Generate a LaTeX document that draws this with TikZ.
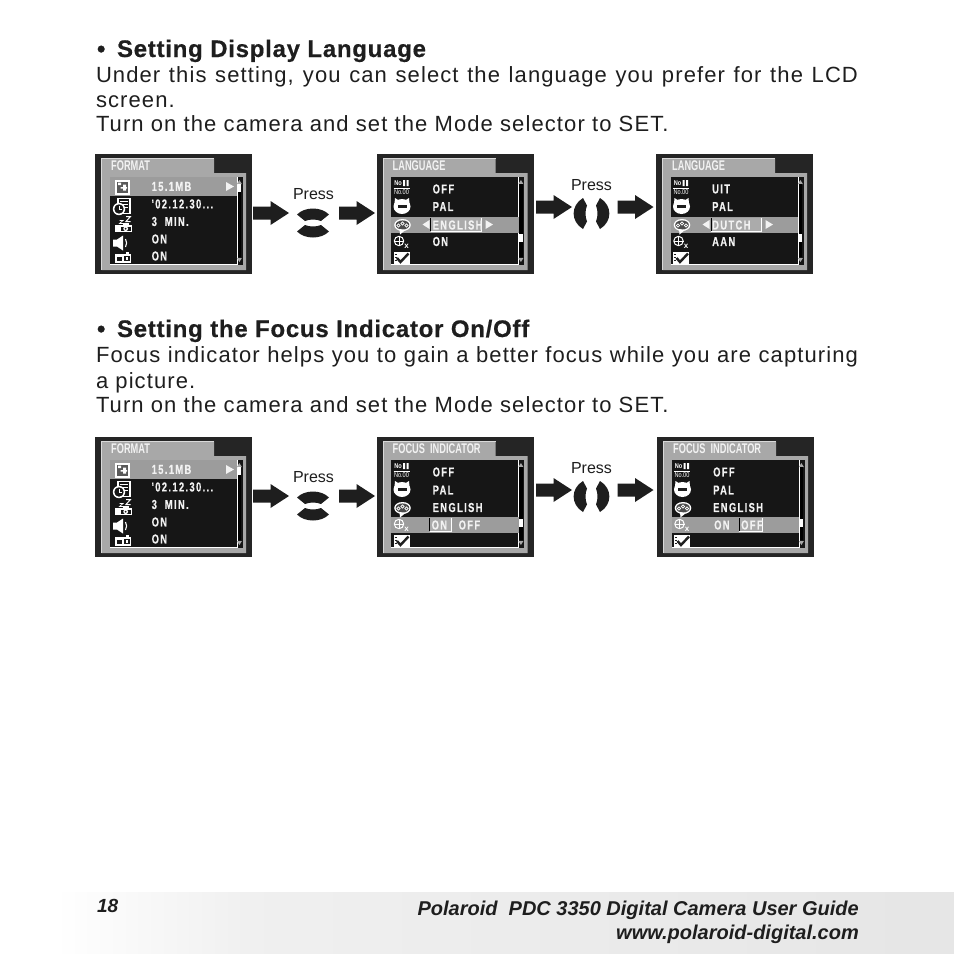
\documentclass[tikz,border=0pt]{standalone}
\usepackage{fontspec}
\setmainfont{Liberation Sans}
\newfontfamily\lcdfont[FakeStretch=0.72,LetterSpace=10.5,BoldFeatures={FakeBold=0.35}]{Liberation Sans}
\newfontfamily\titlefont[FakeStretch=0.66]{Liberation Sans}
\newfontfamily\tinyfont[FakeStretch=0.8]{Liberation Sans}
\newfontfamily\bodyfont[LetterSpace=5]{Liberation Sans}
\newfontfamily\headfont[LetterSpace=3.1,BoldFeatures={FakeBold=0.5}]{Liberation Sans}
\newfontfamily\footfont[LetterSpace=0]{Liberation Sans}
\definecolor{outerc}{HTML}{252525}
\definecolor{framec}{HTML}{A8A8A8}
\definecolor{blackc}{HTML}{161616}
\definecolor{bandc}{HTML}{9C9C9C}
\definecolor{selc}{HTML}{ABABAB}
\definecolor{inkc}{HTML}{1E1E1E}
\definecolor{lcdw}{HTML}{F2F2F2}
\tikzset{
  txt/.style={anchor=base west,inner sep=0pt,outer sep=0pt,text=inkc},
  lcdtxt/.style={anchor=west,inner sep=0pt,text=lcdw,font=\lcdfont\bfseries\fontsize{13}{14}\selectfont},
  tabtxt/.style={anchor=west,inner sep=0pt,text=lcdw,font=\titlefont\bfseries\fontsize{14}{15}\selectfont},
  presstxt/.style={anchor=center,inner sep=0pt,text=inkc,font=\fontsize{16}{18}\selectfont},
  headtxt/.style={txt,font=\headfont\bfseries\fontsize{24}{28}\selectfont},
  bodytxt/.style={txt,font=\bodyfont\fontsize{22}{26}\selectfont},
  foottxt/.style={anchor=base east,inner sep=0pt,text=inkc,font=\footfont\bfseries\itshape\fontsize{20}{22}\selectfont}
}
% #1 shift x, #2 shift y, #3 title
\newcommand{\screenbase}[3]{%
  \fill[outerc] (#1,#2) rectangle ++(157,120);
  \begin{scope}[shift={(#1,#2)}]
    \fill[framec] (6.5,4.5) -- (119,4.5) -- (119,19) -- (151,19) -- (151,116) -- (6.5,116) -- cycle;
    \draw[white!85!black,line width=.6pt] (6.5,116) -- (6.5,4.5) -- (119,4.5);
    \fill[blackc] (14.5,23) rectangle (147.5,110.5);
    \draw[white,line width=.6pt] (142,23) -- (142,110.5) -- (14.5,110.5);
    \fill[framec] (144.4,26) -- (146.9,30) -- (141.9,30) -- cycle;
    \fill[framec] (144.4,108) -- (146.9,104) -- (141.9,104) -- cycle;
    \node[tabtxt] (title) at (16,12) {#3};
  \end{scope}}
\newcommand{\upanddown}[2]{%
  \begin{scope}[shift={(#1,#2)}]
    \fill[inkc] (-16,-8.5) .. controls (-8,-16.5) and (8,-16.5) .. (16,-8.5) -- (8,-2) .. controls (3,-4) and (-3,-4) .. (-8,-2) -- cycle;
    \fill[inkc] (-16,8.5) .. controls (-8,16.5) and (8,16.5) .. (16,8.5) -- (8,2) .. controls (3,4) and (-3,4) .. (-8,2) -- cycle;
  \end{scope}}
\newcommand{\leftandright}[2]{%
  \begin{scope}[shift={(#1,#2)}]
    \fill[inkc] (-8.5,-15.5) .. controls (-21,-8) and (-21,8) .. (-8.5,15.5) -- (-4.5,8) .. controls (-6.5,3) and (-6.5,-3) .. (-4.5,-8) -- cycle;
    \fill[inkc] (8.5,-15.5) .. controls (21,-8) and (21,8) .. (8.5,15.5) -- (4.5,8) .. controls (6.5,3) and (6.5,-3) .. (4.5,-8) -- cycle;
  \end{scope}}
\newcommand{\blockarrow}[2]{%
  \fill[inkc] (#1,#2-6.5) -- ++(17.5,0) -- ++(0,-5.5) -- (#1+36,#2) -- (#1+17.5,#2+12) -- ++(0,-5.5) -- (#1,#2+6.5) -- cycle;}
% Icons of the FORMAT screen, local coordinates
\newcommand{\formaticons}{%
  \fill[white] (19.5,25.5) rectangle (35,40.5);
  \fill[black!65] (21.5,27.5) rectangle (33,38.5);
  \fill[white] (23,28.5) rectangle (26,31) (28,30.5) rectangle (31,36.5) (25.5,33) rectangle (32,34.5);
  % clock and document
  \draw[white,line width=1.1pt] (23,44.5) rectangle (35,59.5);
  \draw[white,line width=.8pt] (25,47.5) -- (33,47.5) (28,50.5) -- (33,50.5) (30,53.5) -- (33,53.5);
  \fill[white] (24,55) circle (6.2);
  \fill[blackc] (24,55) circle (4.7);
  \draw[white,line width=.9pt] (24,51.5) -- (24,55) -- (27,55);
  % sleep camera
  \fill[white] (20,71) rectangle (37,78);
  \fill[blackc] (26,72.5) rectangle (35.5,77);
  \fill[white] (30.7,74.7) circle (2.4);
  \fill[blackc] (30.7,74.7) circle (1);
  \fill[white] (28,69) rectangle (33.5,71);
  \draw[white,line width=1pt] (31,62.5) -- (35.5,62.5) -- (31,67.5) -- (35.5,67.5);
  \draw[white,line width=.7pt] (24.5,66.5) -- (28,66.5) -- (24.5,69.5) -- (28,69.5);
  % speaker
  \fill[white] (18,85.5) -- (22,85.5) -- (28,81.5) -- (28,96.5) -- (22,92.5) -- (18,92.5) -- cycle;
  \draw[white,line width=1.1pt] (30.5,85) .. controls (32,87.5) and (32,90.5) .. (30.5,93);
  % battery camera
  \fill[white] (20,100) rectangle (36,108.5);
  \fill[blackc] (21.5,103) rectangle (27,106.5);
  \fill[white] (30.5,98) rectangle (34,100);
  \fill[blackc] (29,102) rectangle (34.5,107);
  \fill[white] (31,103) rectangle (32.5,106);
}
% Icons of the LANGUAGE and FOCUS screens
\newcommand{\seticons}{%
  \node[anchor=center,inner sep=0pt,text=white,font=\tinyfont\bfseries\fontsize{7}{8}\selectfont] (noa) at (21.5,29.5) {No};
  \fill[white] (26.5,26) rectangle (28.5,32) (30.2,26) rectangle (32.2,32);
  \draw[white,line width=.6pt] (17,34) -- (33,34);
  \node[anchor=center,inner sep=0pt,text=white,font=\tinyfont\fontsize{7}{8}\selectfont] (nob) at (25,38.5) {No.00};
  % cat shaped battery
  \fill[white] (25.5,52.5) ellipse (8.5 and 7.5);
  \fill[white] (18.5,44) -- (22.5,46.5) -- (18,49.5) -- cycle (32.5,44) -- (28.5,46.5) -- (33,49.5) -- cycle;
  \fill[inkc] (21,51.3) rectangle (30,53.8);
  % speech bubble
  \fill[white] (26,71) ellipse (8.3 and 6);
  \fill[black!70] (26,71) ellipse (6.8 and 4.6);
  \fill[white] (23,75) -- (29,76) -- (23.5,80.5) -- cycle;
  \foreach \cx/\cy in {22/71.5,26/69.5,30/71.5}{\draw[white,line width=.7pt] (\cx,\cy) circle (1.6);}
  % focus target
  \draw[white,line width=1pt] (22.5,87) circle (4.7);
  \draw[white,line width=.9pt] (17.5,87) -- (27.5,87) (22.5,82) -- (22.5,92);
  \node[anchor=center,inner sep=0pt,text=white,font=\bfseries\fontsize{8}{9}\selectfont] (xsub) at (30,92) {x};
  % check list
  \fill[white] (17,98) rectangle (33,110);
  \draw[inkc,line width=2.4pt] (20.5,104) -- (24,108) -- (32,99.5);
  \draw[inkc,line width=.6pt] (18,100) -- (20,100) (18,103) -- (20,103) (18,106) -- (20,106);
}
\begin{document}
\begin{tikzpicture}[x=1pt,y=-1pt]
\useasboundingbox (0,0) rectangle (954,954);
\fill[white] (0,0) rectangle (954,954);

% headings and body
\node[headtxt] (h1) at (97,57) {\makebox[20pt][l]{•}Setting Display Language};
\node[bodytxt] (b1) at (96,82.7) {\makebox[762pt][s]{Under this setting, you can select the language you prefer for the LCD}};
\node[bodytxt] (b2) at (96,107.7) {screen.};
\node[bodytxt] (b3) at (96,131.7) {Turn on the camera and set the Mode selector to SET.};

\node[headtxt] (h2) at (97,337) {\makebox[20pt][l]{•}Setting the Focus Indicator On/Off};
\node[bodytxt] (b4) at (96,362.7) {\makebox[762pt][s]{Focus indicator helps you to gain a better focus while you are capturing}};
\node[bodytxt] (b5) at (96,388.7) {a picture.};
\node[bodytxt] (b6) at (96,412.7) {Turn on the camera and set the Mode selector to SET.};

% Row 1, screen A
\begin{scope}[name prefix=a-]
\screenbase{95}{154}{FORMAT}
\begin{scope}[shift={(95,154)}]
  \fill[bandc] (14.5,23) rectangle (142,42);
  \fill[lcdw] (131,28) -- (139,32.5) -- (131,37) -- cycle;
  \formaticons
  \fill[black] (142.5,30) rectangle (146,103);
  \fill[white] (142.5,30) rectangle (146,37.5);
  \node[lcdtxt] (r1) at (56.5,32.5) {15.1MB};
  \node[lcdtxt] (r2) at (56.5,50) {'02.12.30...};
  \node[lcdtxt] (r3) at (56.5,67.5) {3\ \ MIN.};
  \node[lcdtxt] (r4) at (56.5,85) {ON};
  \node[lcdtxt] (r5) at (56.5,102) {ON};
\end{scope}
\end{scope}

% Row 1, screen B
\begin{scope}[name prefix=b-]
\screenbase{376.5}{154}{LANGUAGE}
\begin{scope}[shift={(376.5,154)}]
  \fill[bandc] (14.5,62.5) rectangle (142,78.5);
  \fill[selc] (54,64) rectangle (105,77);
  \draw[black,line width=.8pt] (54,64) -- (54,77);
  \draw[white,line width=.7pt] (54,77) -- (105,77) -- (105,64);
  \fill[lcdw] (53,66) -- (53,75) -- (46,70.5) -- cycle;
  \fill[lcdw] (109,66) -- (109,75) -- (116.5,70.5) -- cycle;
  \seticons
  \fill[black] (142.5,30) rectangle (146,103);
  \fill[white] (142.5,80) rectangle (146,88);
  \node[lcdtxt] (r1) at (56,35) {OFF};
  \node[lcdtxt] (r2) at (56,52.5) {PAL};
  \node[lcdtxt] (r3) at (56,71) {ENGLISH};
  \node[lcdtxt] (r4) at (56,87.5) {ON};
\end{scope}
\end{scope}

% Row 1, screen C
\begin{scope}[name prefix=c-]
\screenbase{656}{154}{LANGUAGE}
\begin{scope}[shift={(656,154)}]
  \fill[bandc] (14.5,62.5) rectangle (142,78.5);
  \fill[selc] (55,64) rectangle (105,77);
  \draw[black,line width=.8pt] (55,64) -- (55,77);
  \draw[white,line width=.7pt] (55,77) -- (105,77) -- (105,64);
  \fill[lcdw] (53.5,66) -- (53.5,75) -- (46.5,70.5) -- cycle;
  \fill[lcdw] (109.5,66) -- (109.5,75) -- (117,70.5) -- cycle;
  \seticons
  \fill[black] (142.5,30) rectangle (146,103);
  \fill[white] (142.5,80) rectangle (146,88);
  \node[lcdtxt] (r1) at (56,35) {UIT};
  \node[lcdtxt] (r2) at (56,52.5) {PAL};
  \node[lcdtxt] (r3) at (56,71) {DUTCH};
  \node[lcdtxt] (r4) at (56,87.5) {AAN};
\end{scope}
\end{scope}

% Row 2, screen D
\begin{scope}[name prefix=d-]
\screenbase{95}{437}{FORMAT}
\begin{scope}[shift={(95,437)}]
  \fill[bandc] (14.5,23) rectangle (142,42);
  \fill[lcdw] (131,28) -- (139,32.5) -- (131,37) -- cycle;
  \formaticons
  \fill[black] (142.5,30) rectangle (146,103);
  \fill[white] (142.5,30) rectangle (146,37.5);
  \node[lcdtxt] (r1) at (56.5,32.5) {15.1MB};
  \node[lcdtxt] (r2) at (56.5,50) {'02.12.30...};
  \node[lcdtxt] (r3) at (56.5,67.5) {3\ \ MIN.};
  \node[lcdtxt] (r4) at (56.5,85) {ON};
  \node[lcdtxt] (r5) at (56.5,102) {ON};
\end{scope}
\end{scope}

% Row 2, screen E
\begin{scope}[name prefix=e-]
\screenbase{376.5}{437}{FOCUS\ \ INDICATOR}
\begin{scope}[shift={(376.5,437)}]
  \fill[bandc] (14.5,80) rectangle (142,96);
  \fill[selc] (53,81) rectangle (75,94);
  \draw[black,line width=.8pt] (53,81) -- (53,94);
  \draw[white,line width=.7pt] (53,94) -- (75,94) -- (75,81);
  \seticons
  \fill[black] (142.5,30) rectangle (146,103);
  \fill[white] (142.5,82) rectangle (146,90);
  \node[lcdtxt] (r1) at (56,35) {OFF};
  \node[lcdtxt] (r2) at (56,53) {PAL};
  \node[lcdtxt] (r3) at (56,70.5) {ENGLISH};
  \node[lcdtxt] (r4) at (55,88) {ON};
  \node[lcdtxt] (r5) at (82,88) {OFF};
\end{scope}
\end{scope}

% Row 2, screen F
\begin{scope}[name prefix=f-]
\screenbase{657}{437}{FOCUS\ \ INDICATOR}
\begin{scope}[shift={(657,437)}]
  \fill[bandc] (14.5,80) rectangle (142,96);
  \fill[selc] (82,81) rectangle (105,94);
  \draw[black,line width=.8pt] (82,81) -- (82,94);
  \draw[white,line width=.7pt] (82,94) -- (105,94) -- (105,81);
  \seticons
  \fill[black] (142.5,30) rectangle (146,103);
  \fill[white] (142.5,82) rectangle (146,90);
  \node[lcdtxt] (r1) at (56,35) {OFF};
  \node[lcdtxt] (r2) at (56,53) {PAL};
  \node[lcdtxt] (r3) at (56,70.5) {ENGLISH};
  \node[lcdtxt] (r4) at (57,88) {ON};
  \node[lcdtxt] (r5) at (84,88) {OFF};
\end{scope}
\end{scope}

% arrows and buttons, row 1
\blockarrow{253}{213}
\upanddown{313}{223}
\node[presstxt] (p1) at (313.5,194.3) {Press};
\blockarrow{339}{213}
\blockarrow{536}{207}
\leftandright{591.5}{213.5}
\node[presstxt] (p2) at (591.5,185.3) {Press};
\blockarrow{617.5}{207}

% arrows and buttons, row 2
\blockarrow{253}{496}
\upanddown{313}{506}
\node[presstxt] (p3) at (313.5,477.3) {Press};
\blockarrow{339}{496}
\blockarrow{536}{490}
\leftandright{591.5}{496.5}
\node[presstxt] (p4) at (591.5,468.3) {Press};
\blockarrow{617.5}{490}

% footer
\shade[left color=white,right color=black!6] (55,892) rectangle (250,953);
\shade[left color=black!6,right color=black!10] (250,892) rectangle (954,953);
\node[txt,font=\footfont\bfseries\itshape\fontsize{19}{21}\selectfont] (pg) at (97,912) {18};
\node[foottxt] (f1) at (859,915) {Polaroid\ \ PDC 3350 Digital Camera User Guide};
\node[foottxt] (f2) at (859,939.5) {www.polaroid-digital.com};
\end{tikzpicture}
\end{document}
